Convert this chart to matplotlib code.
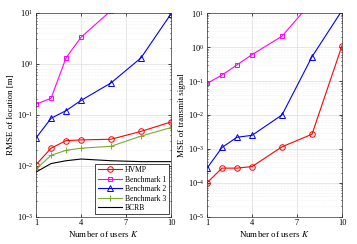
import numpy as np
import matplotlib.pyplot as plt
from matplotlib.ticker import FixedLocator, NullFormatter, LogFormatterMathtext

plt.rcParams['font.family'] = ['Liberation Serif', 'DejaVu Serif']
plt.rcParams['mathtext.fontset'] = 'stix'
plt.rcParams['font.size'] = 6

# ----------- DATA -----------
users = [1, 2, 3, 4, 6, 8, 10]

loc_hvmp = [0.0105, 0.022, 0.031, 0.032, 0.033, 0.047, 0.072]
loc_bench1 = [0.16, 0.21, 1.3, 3.3, 11, 60, 300]
loc_bench2 = [0.035, 0.085, 0.12, 0.19, 0.42, 1.3, 9.5]
loc_bench3 = [0.0085, 0.016, 0.020, 0.022, 0.024, 0.038, 0.056]
loc_bcrb = [0.0075, 0.011, 0.0125, 0.0135, 0.0125, 0.012, 0.012]

sig_hvmp = [1.0e-4, 2.7e-4, 2.7e-4, 3.0e-4, 1.15e-3, 2.7e-3, 1.1]
sig_bench1 = [0.085, 0.15, 0.30, 0.60, 2.1, 22, 200]
sig_bench2 = [2.7e-4, 1.1e-3, 2.2e-3, 2.5e-3, 1.0e-2, 0.52, 12]

xticks = [1, 4, 7, 10]

RED = '#ff0000'
MAG = '#ff00ff'
BLUE = '#0000ff'
GREEN = '#77ac30'

fig = plt.figure(figsize=(3.57, 2.44), dpi=100)
ax1 = fig.add_axes([0.101, 0.112, 0.378, 0.836])
ax2 = fig.add_axes([0.580, 0.112, 0.378, 0.834])


def style(ax, emin, emax):
    ax.set_yscale('log')
    ax.set_xlim(1, 10)
    ax.set_ylim(10.0 ** emin, 10.0 ** emax)
    ax.set_xticks(xticks)
    decades = [10.0 ** e for e in range(emin, emax + 1)]
    minors = [m * 10.0 ** e for e in range(emin, emax) for m in range(2, 10)]
    ax.yaxis.set_major_locator(FixedLocator(decades))
    ax.yaxis.set_major_formatter(LogFormatterMathtext())
    ax.yaxis.set_minor_locator(FixedLocator(minors))
    ax.yaxis.set_minor_formatter(NullFormatter())
    ax.grid(True, which='major', color='#dddddd', lw=0.5)
    ax.grid(True, which='minor', color='#e8e8e8', lw=0.4, ls=':')
    ax.tick_params(direction='in', which='both', top=True, right=True,
                   labelsize=6, length=2, width=0.5, pad=2)
    ax.tick_params(which='minor', length=1)
    for s in ax.spines.values():
        s.set_linewidth(0.5)
        s.set_color('#333333')
    ax.set_xlabel('Number of users $K$', fontsize=6.5, labelpad=1)


ms = 4
ax1.plot(users, loc_hvmp, '-o', color=RED, mfc='none', ms=ms, lw=0.8, mew=0.7, label='HVMP')
ax1.plot(users, loc_bench1, '-s', color=MAG, mfc='none', ms=ms - 0.5, lw=0.8, mew=0.7, label='Benchmark 1')
ax1.plot(users, loc_bench2, '-^', color=BLUE, mfc='none', ms=ms, lw=0.8, mew=0.7, label='Benchmark 2')
ax1.plot(users, loc_bench3, '-+', color=GREEN, ms=ms, lw=0.8, mew=0.7, label='Benchmark 3')
ax1.plot(users, loc_bcrb, '-', color='black', lw=0.8, label='BCRB')
style(ax1, -3, 1)
ax1.set_ylabel('RMSE of location [m]', fontsize=6.5, labelpad=1)
leg = ax1.legend(loc='lower right', fontsize=5.5, frameon=True, fancybox=False,
                 edgecolor='black', framealpha=1, borderpad=0.3, labelspacing=0.2,
                 handlelength=3.2, handletextpad=0.4, borderaxespad=0.3)
leg.get_frame().set_linewidth(0.5)

ax2.plot(users, sig_hvmp, '-o', color=RED, mfc='none', ms=ms, lw=0.8, mew=0.7)
ax2.plot(users, sig_bench1, '-s', color=MAG, mfc='none', ms=ms - 0.5, lw=0.8, mew=0.7)
ax2.plot(users, sig_bench2, '-^', color=BLUE, mfc='none', ms=ms, lw=0.8, mew=0.7)
style(ax2, -5, 1)
ax2.set_ylabel('MSE of transmit signal', fontsize=6.5, labelpad=1)

fig.savefig('out.png', dpi=100)
